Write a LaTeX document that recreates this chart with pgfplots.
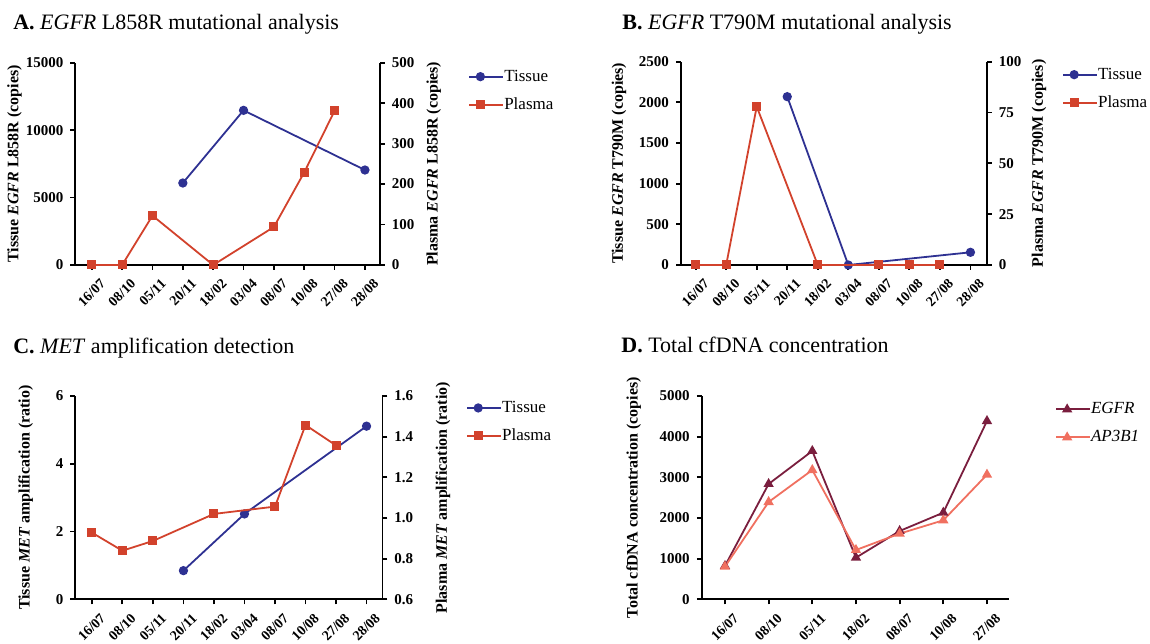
\documentclass[border=0pt]{standalone}
\usepackage{fontspec}
\setmainfont{Liberation Serif}
\usepackage{pgfplots}
\pgfplotsset{compat=1.18}
\definecolor{tissue}{RGB}{46,49,146}
\definecolor{plasma}{RGB}{210,66,44}
\definecolor{egfr}{RGB}{122,30,62}
\definecolor{ap}{RGB}{240,112,96}
\pgfplotsset{
  base/.style={
    scale only axis,
    /pgf/number format/assume math mode=true,
    /pgf/number format/set thousands separator={},
    scaled y ticks=false,
    tick label style={font=\bfseries\fontsize{7.5}{9}\selectfont},
    label style={font=\bfseries\fontsize{8}{9.5}\selectfont},
    axis line style={-, line width=0.9pt, black},
    tick style={line width=0.9pt, black},
    major tick length=2.5pt,
    tick align=outside,
    minor tick num=0,
    clip=false,
    xticklabel style={font=\bfseries\fontsize{7}{8}\selectfont, rotate=45, anchor=east, inner sep=1pt, yshift=-8pt, xshift=1pt},
    every axis plot/.append style={line width=0.9pt},
    legend style={draw=none, fill=none, inner sep=0pt, font=\fontsize{8.5}{10}\selectfont,
      nodes={inner sep=0pt, text height=6.5pt, text depth=2pt, anchor=west}, row sep=5.5pt},
    legend cell align=left,
    legend image code/.code={\draw[mark repeat=2,mark phase=2,#1] plot coordinates {(0pt,0pt) (5.5pt,0pt) (11pt,0pt)}; \path (0pt,0pt) -- (17pt,0pt);},
  },
  tis/.style={color=tissue, mark=*, mark size=1.85pt, mark options={solid}},
  pla/.style={color=plasma, mark=square*, mark size=1.8pt, mark options={solid}},
}
\begin{document}
\begin{tikzpicture}
% ---------- Panel A ----------
\begin{axis}[base, at={(37.7pt,189pt)}, anchor=south west, width=152.2pt, height=101.15pt,
  xmin=-0.54, xmax=9.49, ymin=0, ymax=15000, ytick={0,5000,10000,15000},
  axis x line*=bottom, axis y line*=left,
  xtick={0,1,2,3,4,5,6,7,8,9},
  xticklabels={16/07,08/10,05/11,20/11,18/02,03/04,08/07,10/08,27/08,28/08},
  ylabel={Tissue \textit{EGFR} L858R (copies)},
  ylabel style={at={(axis description cs:-0.2,0.5)}, anchor=center}]
\addplot[tis] coordinates {(3,6079) (5,11467) (9,7043)};
\end{axis}
\begin{axis}[base, at={(37.7pt,189pt)}, anchor=south west, width=152.2pt, height=101.15pt,
  xmin=-0.54, xmax=9.49, ymin=0, ymax=500, ytick={0,100,200,300,400,500},
  axis x line=none, axis y line*=right,
  ylabel={Plasma \textit{EGFR} L858R (copies)},
  ylabel style={at={(axis description cs:1.177,0.5)}, anchor=center},
  legend style={at={(axis description cs:1.29,0.975)}, anchor=north west}]
\addlegendimage{tis}
\addlegendentry{Tissue}
\addplot[pla] coordinates {(0,0) (1,0) (2,122) (4,0) (6,94) (7,229) (8,381)};
\addlegendentry{Plasma}
\end{axis}
% ---------- Panel B ----------
\begin{axis}[base, at={(340.5pt,189pt)}, anchor=south west, width=152.95pt, height=101.65pt,
  xmin=-0.48, xmax=9.54, ymin=0, ymax=2500, ytick={0,500,1000,1500,2000,2500},
  axis x line*=bottom, axis y line*=left,
  xtick={0,1,2,3,4,5,6,7,8,9},
  xticklabels={16/07,08/10,05/11,20/11,18/02,03/04,08/07,10/08,27/08,28/08},
  ylabel={Tissue \textit{EGFR} T790M (copies)},
  ylabel style={at={(axis description cs:-0.203,0.5)}, anchor=center}]
\addplot[tis] coordinates {(3,2070) (5,0) (9,156)};
\end{axis}
\begin{axis}[base, at={(340.5pt,189pt)}, anchor=south west, width=152.95pt, height=101.65pt,
  xmin=-0.48, xmax=9.54, ymin=0, ymax=100, ytick={0,25,50,75,100},
  axis x line=none, axis y line*=right,
  ylabel={Plasma \textit{EGFR} T790M (copies)},
  ylabel style={at={(axis description cs:1.17,0.5)}, anchor=center},
  legend style={at={(axis description cs:1.245,0.98)}, anchor=north west}]
\addlegendimage{tis}
\addlegendentry{Tissue}
\addplot[pla] coordinates {(0,0) (1,0) (2,77.9) (4,0) (6,0) (7,0) (8,0)};
\addlegendentry{Plasma}
\end{axis}
% ---------- Panel C ----------
\begin{axis}[base, at={(37.7pt,21.85pt)}, anchor=south west, width=153.5pt, height=101.65pt,
  xmin=-0.54, xmax=9.52, ymin=0, ymax=6, ytick={0,2,4,6},
  axis x line*=bottom, axis y line*=left,
  xtick={0,1,2,3,4,5,6,7,8,9},
  xticklabels={16/07,08/10,05/11,20/11,18/02,03/04,08/07,10/08,27/08,28/08},
  ylabel={Tissue \textit{MET} amplification (ratio)},
  ylabel style={at={(axis description cs:-0.162,0.5)}, anchor=center}]
\addplot[tis] coordinates {(3,0.846) (5,2.52) (9,5.11)};
\end{axis}
\begin{axis}[base, at={(37.7pt,21.85pt)}, anchor=south west, width=153.5pt, height=101.65pt,
  xmin=-0.54, xmax=9.52, ymin=0.6, ymax=1.6, ytick={0.6,0.8,1.0,1.2,1.4,1.6},
  yticklabel style={/pgf/number format/fixed, /pgf/number format/fixed zerofill, /pgf/number format/precision=1},
  axis x line=none, axis y line*=right,
  ylabel={Plasma \textit{MET} amplification (ratio)},
  ylabel style={at={(axis description cs:1.197,0.5)}, anchor=center},
  legend style={at={(axis description cs:1.272,0.985)}, anchor=north west}]
\addlegendimage{tis}
\addlegendentry{Tissue}
\addplot[pla] coordinates {(0,0.928) (1,0.839) (2,0.887) (4,1.02) (6,1.056) (7,1.457) (8,1.357)};
\addlegendentry{Plasma}
\end{axis}
% ---------- Panel D ----------
\begin{axis}[base, at={(350.9pt,21.85pt)}, anchor=south west, width=153.5pt, height=101.65pt,
  xmin=-0.53, xmax=6.5, ymin=0, ymax=5000, ytick={0,1000,2000,3000,4000,5000},
  axis x line*=bottom, axis y line*=left,
  xtick={0,1,2,3,4,5,6},
  xticklabels={16/07,08/10,05/11,18/02,08/07,10/08,27/08},
  ylabel={Total cfDNA concentration (copies)},
  ylabel style={at={(axis description cs:-0.222,0.5)}, anchor=center},
  legend style={at={(axis description cs:1.15,0.978)}, anchor=north west}]
\addplot[color=egfr, mark=triangle*, mark size=2.1pt, mark options={solid}] coordinates {(0,820) (1,2836) (2,3648) (3,1025) (4,1680) (5,2131) (6,4385)};
\addlegendentry{\textit{EGFR}}
\addplot[color=ap, mark=triangle*, mark size=2.1pt, mark options={solid}] coordinates {(0,803) (1,2393) (2,3180) (3,1213) (4,1615) (5,1943) (6,3066)};
\addlegendentry{\textit{AP3B1}}
\end{axis}
% ---------- Titles ----------
\node[anchor=base west, inner sep=0pt, font=\fontsize{11}{13}\selectfont] at (6.45pt,306.5pt) {\textbf{A.} \textit{EGFR} L858R mutational analysis};
\node[anchor=base west, inner sep=0pt, font=\fontsize{11}{13}\selectfont] at (311pt,306.5pt) {\textbf{B.} \textit{EGFR} T790M mutational analysis};
\node[anchor=base west, inner sep=0pt, font=\fontsize{11}{13}\selectfont] at (6.45pt,144.8pt) {\textbf{C.} \textit{MET} amplification detection};
\node[anchor=base west, inner sep=0pt, font=\fontsize{11}{13}\selectfont] at (310.5pt,145.2pt) {\textbf{D.} Total cfDNA concentration};
\pgfresetboundingbox
\path[use as bounding box] (0pt,0pt) rectangle (575pt,321.5pt);
\end{tikzpicture}
\end{document}
